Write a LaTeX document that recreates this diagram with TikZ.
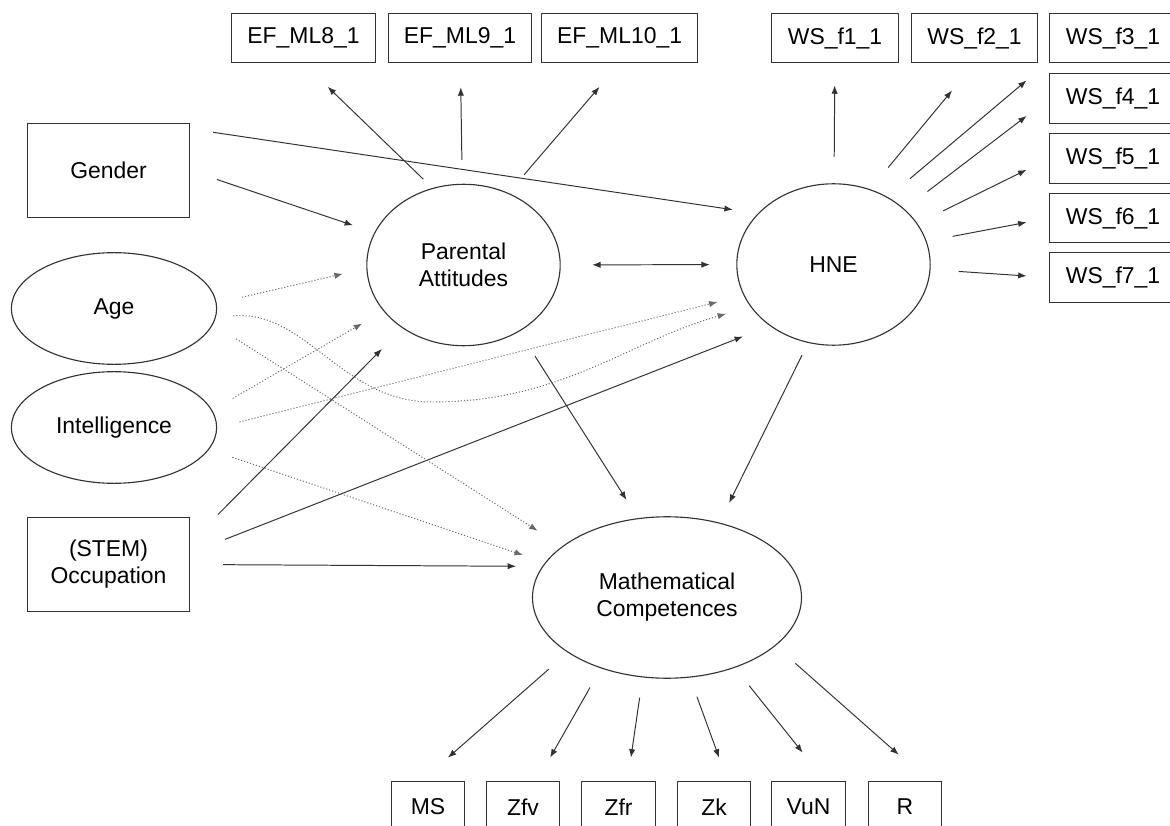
\documentclass[tikz,border=0pt]{standalone}
\usepackage{fontspec}
\setmainfont{Liberation Sans}
\usetikzlibrary{arrows.meta,shapes.geometric}
\definecolor{mygray}{RGB}{50,50,50}
\definecolor{mydot}{RGB}{105,105,105}

\begin{document}
\begin{tikzpicture}[x=0.025cm, y=-0.025cm,
  font=\fontsize{16.3}{19.1}\selectfont,
  >={Latex[length=6pt,width=4.5pt]},
  lat/.style={draw=mygray, line width=0.8pt, ellipse, inner sep=0pt, align=center},
  ind/.style={draw=mygray, line width=0.7pt, rectangle, minimum height=35.4pt, inner xsep=11.3pt},
  obs/.style={draw=mygray, line width=0.7pt, rectangle, minimum height=36.9pt, minimum width=52.4pt, inner xsep=3pt},
  arr/.style={->, draw=mygray, line width=0.7pt},
  dots/.style={->, draw=mydot, line width=0.7pt, dash pattern=on 0.8pt off 1.4pt}]
  \useasboundingbox (0,0) rectangle (1170,826);
  \clip (0,0) rectangle (1170,826);

  % predictors
  \node[ind, minimum width=115.5pt, minimum height=67.3pt] (gender) at (108.5,170.5) {Gender};
  \node[lat, minimum width=146pt, minimum height=79.4pt] (age) at (114,308.5) {Age};
  \node[lat, minimum width=146pt, minimum height=79.4pt] (intel) at (114,427.5) {Intelligence};
  \node[ind, minimum width=115.5pt, minimum height=67.3pt, align=center] (occ) at (108.5,564.5) {(STEM)\\Occupation};

  % latent factors
  \node[lat, minimum width=137.5pt, minimum height=114.8pt] (pa) at (463.5,265) {Parental\\Attitudes};
  \node[lat, minimum width=137.5pt, minimum height=114.8pt] (hne) at (833.5,264.5) {HNE};
  \node[lat, minimum width=191.3pt, minimum height=114.8pt] (mc) at (667,597.5) {Mathematical\\Competences};

  % indicators
  \node[ind] (ef8) at (303.5,38) {EF\_ML8\_1};
  \node[ind] (ef9) at (460,38) {EF\_ML9\_1};
  \node[ind] (ef10) at (619.6,38) {EF\_ML10\_1};
  \node[ind] (ws1) at (835,38) {WS\_f1\_1};
  \node[ind] (ws2) at (974.5,38) {WS\_f2\_1};
  \node[ind] (ws3) at (1113,38) {WS\_f3\_1};
  \node[ind] (ws4) at (1113,98.5) {WS\_f4\_1};
  \node[ind] (ws5) at (1113,158.5) {WS\_f5\_1};
  \node[ind] (ws6) at (1113,218) {WS\_f6\_1};
  \node[ind] (ws7) at (1113,277.5) {WS\_f7\_1};
  \node[obs] (ms) at (428,807) {MS};
  \node[obs] (zfv) at (523,807) {Zfv};
  \node[obs] (zfr) at (618.5,807) {Zfr};
  \node[obs] (zk) at (714,807) {Zk};
  \node[obs] (vun) at (808.5,807) {VuN};
  \node[obs] (rr) at (905,807) {R};

  % loadings
  \draw[arr, shorten <=9pt, shorten >=24pt] (pa.112) -- (ef8.south);
  \draw[arr, shorten <=17pt, shorten >=17pt] (pa) -- (ef9);
  \draw[arr, shorten <=17pt, shorten >=22pt] (pa.58) -- (ef10.south);
  \draw[arr, shorten <=19pt, shorten >=15.6pt] (hne) -- (ws1);
  \draw[arr, shorten <=20pt, shorten >=25pt] (hne.64) -- (ws2.south);
  \draw[arr, shorten <=20.5pt, shorten >=21.3pt] (hne.51) -- (ws3.200);
  \draw[arr, shorten <=20.5pt, shorten >=20.4pt] (hne.38) -- (ws4.west);
  \draw[arr, shorten <=20.3pt, shorten >=18.2pt] (hne.26) -- (ws5.west);
  \draw[arr, shorten <=18.8pt, shorten >=16.6pt] (hne.14) -- (ws6.west);
  \draw[arr, shorten <=20pt, shorten >=16.3pt] (hne.-3) -- (ws7.west);
  \draw[arr, shorten <=18pt, shorten >=24.6pt] (mc.209) -- (ms.103);
  \draw[arr, shorten <=15.6pt, shorten >=18.8pt] (mc.227) -- (zfv.62);
  \draw[arr, shorten <=14.5pt, shorten >=16.5pt] (mc.253) -- (zfr.71);
  \draw[arr, shorten <=14.5pt, shorten >=17.3pt] (mc.286) -- (zk.63);
  \draw[arr, shorten <=16.3pt, shorten >=25.4pt] (mc.314) -- (vun.58);
  \draw[arr, shorten <=18.8pt, shorten >=27.8pt] (mc.336) -- (rr.49);

  % paths
  \draw[arr, shorten <=16.5pt, shorten >=18pt] (gender.27) -- (hne.146);
  \draw[arr, shorten <=20pt, shorten >=16pt] (gender.east) -- (pa.160);
  \draw[arr, shorten <=28pt, shorten >=20.7pt] (occ.15) -- (pa.226);
  \draw[arr, shorten <=26.6pt, shorten >=20.5pt] (occ.8) -- (hne.224);
  \draw[arr, shorten <=23.4pt, shorten >=18.6pt] (occ.east) -- (mc.166);
  \draw[arr, shorten <=20.8pt, shorten >=15.3pt] (pa.-50) -- (mc.110);
  \draw[arr, shorten <=9.7pt, shorten >=15.6pt] (hne.252) -- (mc.55);
  \draw[<->, draw=mygray, line width=0.7pt, shorten <=22.3pt, shorten >=18.8pt] (pa) -- (hne);

  % controls
  \coordinate (agedip) at (432,402);
  \draw[dots, shorten <=18.5pt, shorten >=17.2pt] (age.3) -- (pa.182);
  \draw[dots, shorten <=12.3pt, shorten >=18.1pt] (age.-5) to[out=5,in=180] (agedip) to[out=0,in=196] (hne.207);
  \draw[dots, shorten <=19.4pt, shorten >=20.6pt] (age.-9) -- (mc.154);
  \draw[dots, shorten <=16.8pt, shorten >=17.5pt] (intel.10) -- (pa.210);
  \draw[dots, shorten <=16.3pt, shorten >=19.1pt] (intel.east) -- (hne.199);
  \draw[dots, shorten <=17.5pt, shorten >=16.6pt] (intel.-13) -- (mc.164);
\end{tikzpicture}
\end{document}
